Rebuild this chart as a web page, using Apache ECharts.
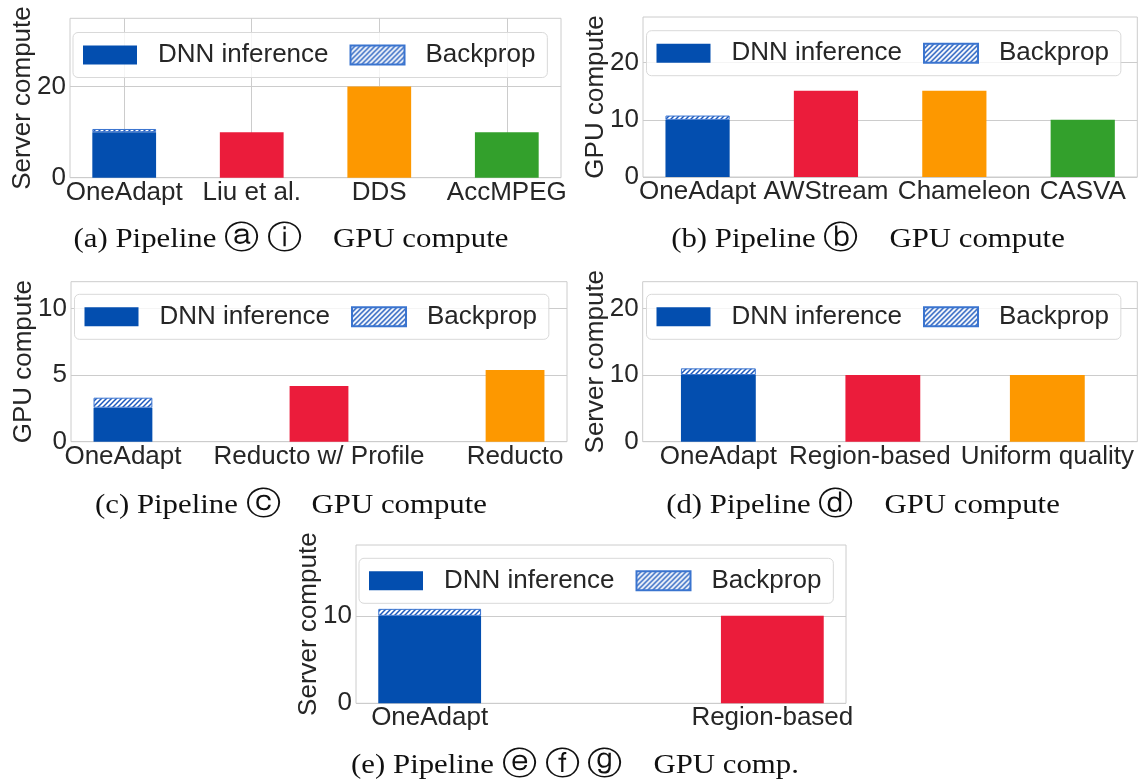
<!DOCTYPE html>
<html>
<head>
<meta charset="utf-8">
<script src="https://cdn.jsdelivr.net/npm/echarts@6/dist/echarts.min.js"></script>
<style>
html,body{margin:0;padding:0;background:#fff;}
#chart{width:1139px;height:782px;}
</style>
</head>
<body>
<div id="chart"></div>
<script>
// ---------------- data ----------------
const catsA = ['OneAdapt', 'Liu et al.', 'DDS', 'AccMPEG'];
const dnnA  = [10, 10, 20, 10];
const backA = [0.7, null, null, null];
const ticksA = [0, 20];

const catsB = ['OneAdapt', 'AWStream', 'Chameleon', 'CASVA'];
const dnnB  = [10, 15.1, 15.1, 10];
const backB = [0.75, null, null, null];
const ticksB = [0, 10, 20];

const catsC = ['OneAdapt', 'Reducto w/ Profile', 'Reducto'];
const dnnC  = [2.55, 4.18, 5.38];
const backC = [0.75, null, null];
const ticksC = [0, 5, 10];

const catsD = ['OneAdapt', 'Region-based', 'Uniform quality'];
const dnnD  = [10, 10, 10];
const backD = [1.0, null, null];
const ticksD = [0, 10, 20];

const catsE = ['OneAdapt', 'Region-based'];
const dnnE  = [10, 10];
const backE = [0.8, null];
const ticksE = [0, 10];

const yNames = ['Server compute', 'GPU compute', 'GPU compute', 'Server compute', 'Server compute'];
const captionLabels = ['(a)', '(b)', '(c)', '(d)', '(e)'];
const captionCircles = [['\u24D0', '\u24D8'], ['\u24D1'], ['\u24D2'], ['\u24D3'], ['\u24D4', '\u24D5', '\u24D6']];
const captionTails = ['GPU compute', 'GPU compute', 'GPU compute', 'GPU compute', 'GPU comp.'];
const legendNames = ['DNN inference', 'Backprop'];

// ---------------- layout / style ----------------
const FONT = '"Liberation Sans", Arial, sans-serif';
const SERIF = '"Liberation Serif", "Times New Roman", serif';
const TXT = '#262626';
const GRID = '#cccccc';
const palette = ['#034EAF', '#EB1C3B', '#FD9800', '#33A02C'];

const panels = [
  {cats: catsA, dnn: dnnA, back: backA, ticks: ticksA, ymax: 35, xmin: -0.425, xmax: 3.425, bw: '50%', vgrid: true,
   rect: {left: 70, top: 18.3, width: 491, height: 159.4}, leg: {left: 73, top: 32.5}, cap: {x: 291, y: 240}, pad: {}},
  {cats: catsB, dnn: dnnB, back: backB, ticks: ticksB, ymax: 28, xmin: -0.425, xmax: 3.425, bw: '50%', vgrid: false,
   rect: {left: 643, top: 17, width: 494.3, height: 160}, leg: {left: 646.5, top: 30.7}, cap: {x: 868, y: 240},
   pad: {2: [0, 0, 0, 20]}},
  {cats: catsC, dnn: dnnC, back: backC, ticks: ticksC, ymax: 12, xmin: -0.265, xmax: 2.265, bw: '30%', vgrid: false,
   rect: {left: 71, top: 281.7, width: 496, height: 160}, leg: {left: 74.5, top: 294.3}, cap: {x: 291, y: 506}, pad: {}},
  {cats: catsD, dnn: dnnD, back: backD, ticks: ticksD, ymax: 24, xmin: -0.46, xmax: 2.547, bw: '45.5%', vgrid: false,
   rect: {left: 642.7, top: 281.7, width: 494.6, height: 160}, leg: {left: 646.5, top: 294.3}, cap: {x: 863, y: 506},
   pad: {1: [0, 26, 0, 0]}},
  {cats: catsE, dnn: dnnE, back: backE, ticks: ticksE, ymax: 18.1, xmin: -0.215, xmax: 1.215, bw: '30%', vgrid: false,
   rect: {left: 356, top: 545, width: 490, height: 158.3}, leg: {left: 359, top: 558.3}, cap: {x: 575, y: 766}, pad: {}}
];

function hatchCanvas() {
  const s = 5;
  const c = document.createElement('canvas');
  c.width = s; c.height = s;
  const g = c.getContext('2d');
  g.fillStyle = '#ffffff';
  g.fillRect(0, 0, s, s);
  g.strokeStyle = '#1b58bd';
  g.lineWidth = 1.5;
  g.beginPath();
  g.moveTo(-1, s + 1); g.lineTo(s + 1, -1);
  g.moveTo(-1, 1); g.lineTo(1, -1);
  g.moveTo(s - 1, s + 1); g.lineTo(s + 1, s - 1);
  g.stroke();
  return c;
}
const hatchFill = {image: hatchCanvas(), repeat: 'repeat'};

const N = panels.length;
const grid = [], xAxis = [], yAxis = [], series = [], legend = [], graphic = [];

// frame grids (border, y ticks, gridlines, axis names)
panels.forEach((p, i) => {
  grid[i] = {
    left: p.rect.left, top: p.rect.top, width: p.rect.width, height: p.rect.height,
    show: true, borderColor: GRID, borderWidth: 1, backgroundColor: 'transparent',
    containLabel: false, outerBoundsMode: 'none'
  };
  const idx = p.cats.map((_, j) => j);
  xAxis[i] = {
    type: 'value', gridIndex: i, min: p.xmin, max: p.xmax,
    axisLine: {show: false},
    axisTick: {show: false, customValues: idx},
    axisLabel: {show: false},
    splitLine: {show: p.vgrid, lineStyle: {color: GRID, width: 1}}
  };
  yAxis[i] = {
    type: 'value', gridIndex: i, min: 0, max: p.ymax,
    axisLine: {show: false},
    axisTick: {show: false, customValues: p.ticks},
    axisLabel: {customValues: p.ticks, formatter: v => String(v), fontSize: 26,
                fontFamily: FONT, color: TXT, margin: 4},
    splitLine: {show: true, lineStyle: {color: GRID, width: 1}},
    name: yNames[i], nameLocation: 'middle', nameGap: 34, nameRotate: 90, nameMoveOverlap: false,
    nameTextStyle: {fontSize: 26, fontFamily: FONT, color: TXT, lineHeight: 26}
  };
});

// bar grids: category axes whose bands are aligned to the frame's x range
panels.forEach((p, i) => {
  const n = p.cats.length;
  const pu = p.rect.width / (p.xmax - p.xmin);
  const g = N + i;
  grid[g] = {
    left: p.rect.left + (-0.5 - p.xmin) * pu, width: n * pu,
    top: p.rect.top, height: p.rect.height,
    show: false, containLabel: false, outerBoundsMode: 'none'
  };
  xAxis[g] = {
    type: 'category', gridIndex: g, boundaryGap: true,
    data: p.cats.map((c, j) => (p.pad[j] ? {value: c, textStyle: {padding: p.pad[j]}} : c)),
    axisLine: {show: false}, axisTick: {show: false}, splitLine: {show: false},
    axisLabel: {interval: 0, showMinLabel: true, showMaxLabel: true, hideOverlap: false,
                fontSize: 26, fontFamily: FONT, color: TXT, margin: 2}
  };
  yAxis[g] = {
    type: 'value', gridIndex: g, min: 0, max: p.ymax, show: false,
    splitLine: {show: false}
  };
  series.push({
    type: 'bar', name: legendNames[0], xAxisIndex: g, yAxisIndex: g, stack: 's' + i,
    barWidth: p.bw, itemStyle: {color: palette[0]},
    data: p.dnn.map((v, j) => ({value: v, itemStyle: {color: palette[j]}}))
  });
  series.push({
    type: 'bar', name: legendNames[1], xAxisIndex: g, yAxisIndex: g, stack: 's' + i,
    barWidth: p.bw, itemStyle: {color: hatchFill, borderColor: '#3a74cf', borderWidth: 1},
    data: p.back.map(v => (v == null ? '-' : v))
  });
  legend.push({
    data: legendNames, left: p.leg.left, top: p.leg.top, orient: 'horizontal',
    icon: 'rect', itemWidth: 54, itemHeight: 19, itemGap: 21,
    padding: [9.5, 12, 9.5, 10], selectedMode: false,
    backgroundColor: 'rgba(255,255,255,0.8)', borderColor: '#d9d9d9', borderWidth: 1, borderRadius: 5,
    textStyle: {fontSize: 26, fontFamily: FONT, color: TXT, lineHeight: 26, padding: [0, 0, 0, 16]}
  });
  const capText = captionLabels[i] + ' Pipeline ' +
    captionCircles[i].map(ch => '{c|' + ch + '}').join(' ') + '    ' + captionTails[i];
  graphic.push({
    type: 'text', x: p.cap.x, y: p.cap.y, silent: true, scaleX: 1.1,
    style: {text: capText, font: '28px ' + SERIF, fill: '#111', textAlign: 'center', textVerticalAlign: 'middle',
            rich: {c: {font: '32px ' + SERIF, fill: '#111'}}}
  });
});

const chart = echarts.init(document.getElementById('chart'), null, {renderer: 'canvas'});
chart.setOption({
  animation: false,
  backgroundColor: '#ffffff',
  grid, xAxis, yAxis, series, legend, graphic
});
</script>
</body>
</html>
